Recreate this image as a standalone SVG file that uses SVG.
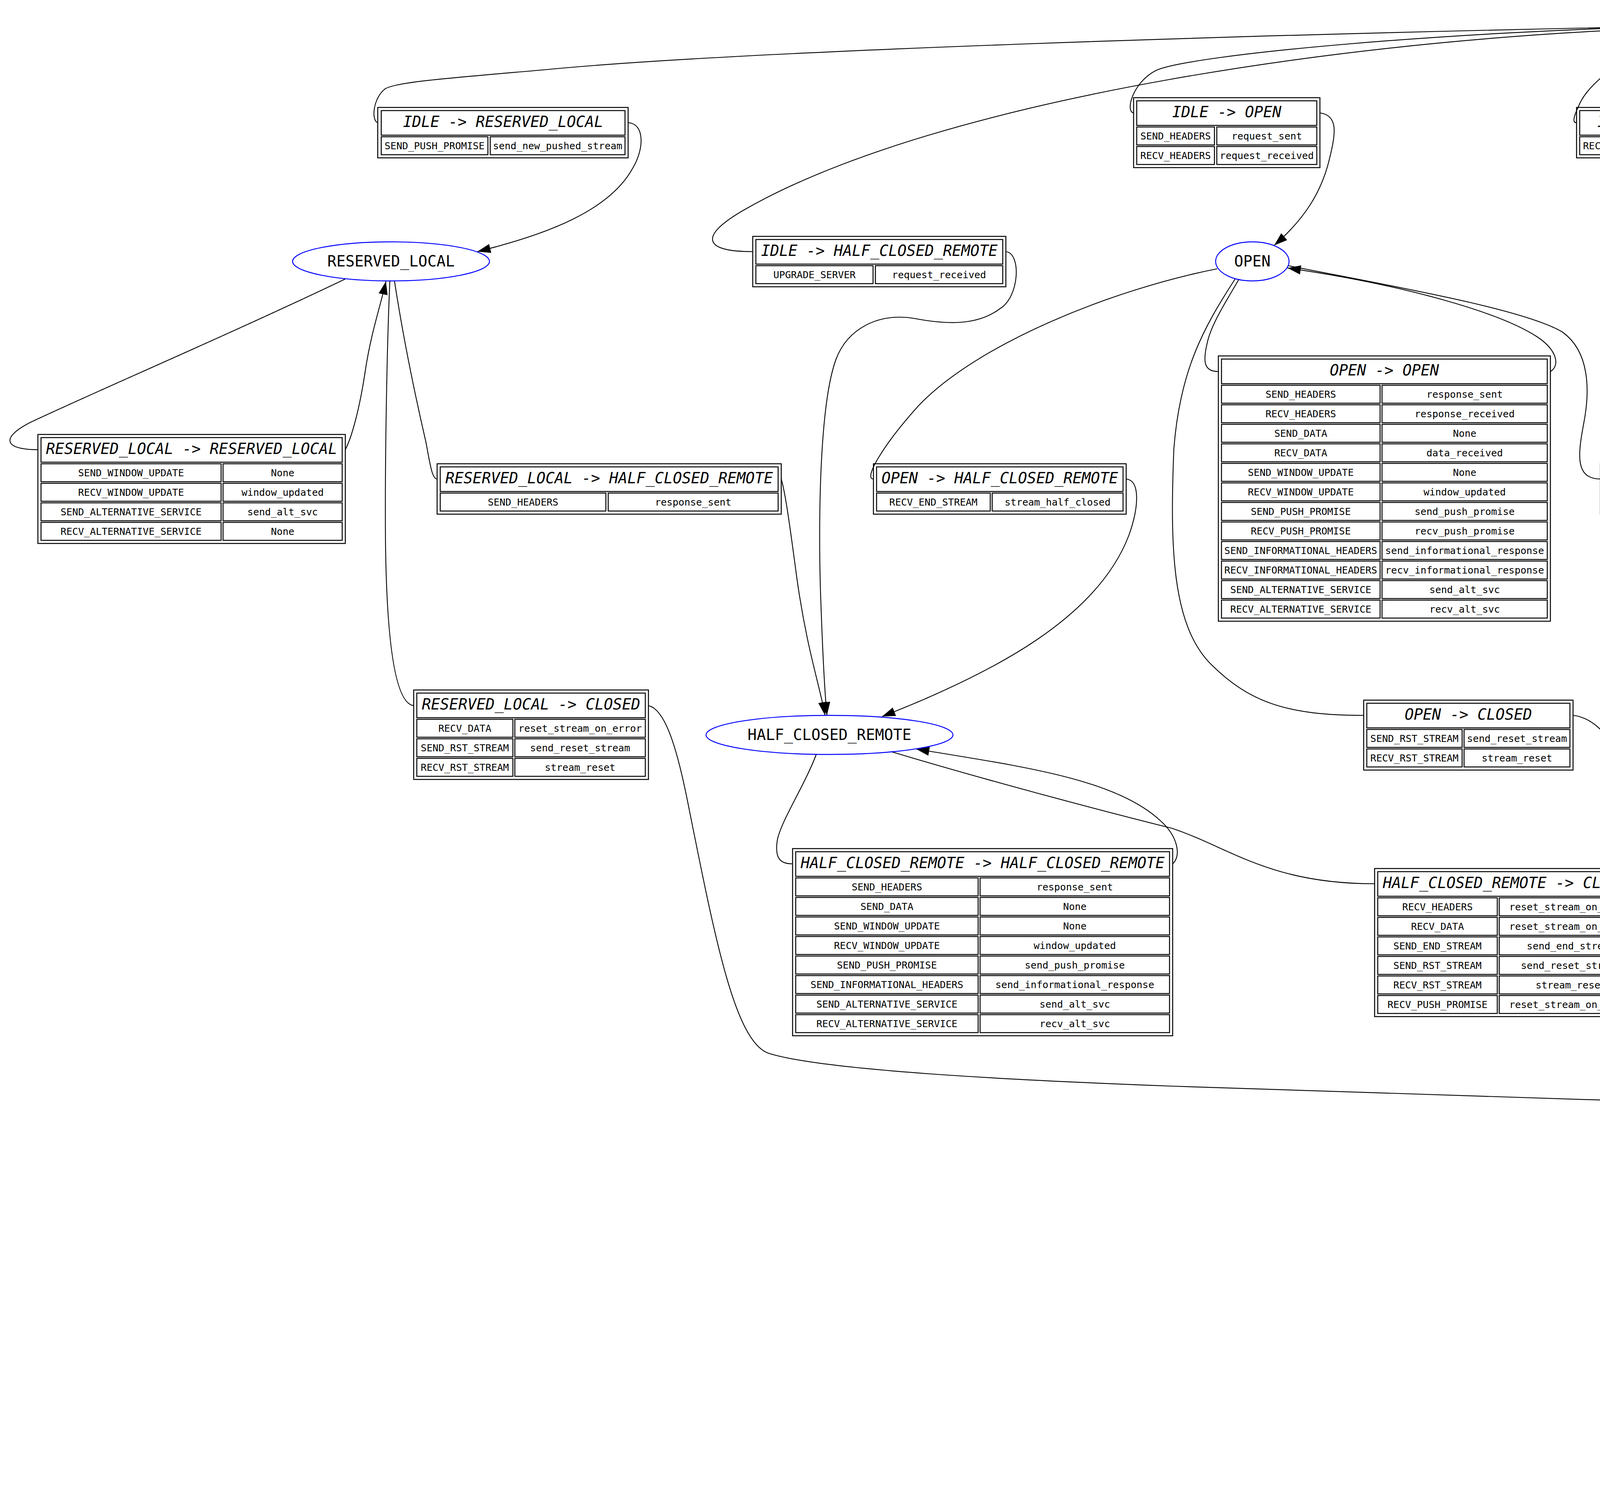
<svg xmlns="http://www.w3.org/2000/svg" width="7675" height="3806" viewBox="0 0 7675 3806">
<style>
.o{fill:none;stroke:#000;stroke-width:2.5}
.c{fill:none;stroke:#000;stroke-width:2.5}
.st{fill:none;stroke:#0000ff;stroke-width:2.4}
.e{fill:none;stroke:#000;stroke-width:2.2}
.a{marker-end:url(#ah)}
.h{font-family:"DejaVu Sans Mono",monospace;font-size:38.7px;font-style:italic;text-anchor:middle;fill:#000}
.t{font-family:"DejaVu Sans Mono",monospace;font-size:25px;text-anchor:middle;fill:#000}
.s{font-family:"DejaVu Sans Mono",monospace;font-size:38.7px;text-anchor:middle;fill:#000}
</style>
<defs>
<marker id="ah" markerUnits="userSpaceOnUse" markerWidth="34" markerHeight="24" refX="32" refY="11" orient="auto" viewBox="0 0 32 22"><path d="M0,0 L32,11 L0,22 z" fill="#000"/></marker>
</defs>
<rect x="0" y="0" width="7675" height="3806" fill="#fff"/>

<g id="connectors">
<path class="e" d="M 4336,66 C 3200,88 1900,130 1400,178 C 1150,200 1010,210 985,228 C 955,252 950,308 967,314"/>
<path class="e a" d="M 1608,314 C 1650,316 1650,380 1620,430 C 1560,540 1400,600 1222,644"/>
<path class="e" d="M 4336,66 C 3700,80 3050,140 2960,180 C 2900,210 2880,285 2902,289"/>
<path class="e a" d="M 3379,289 C 3425,295 3420,340 3405,400 C 3385,490 3340,560 3262,628"/>
<path class="e" d="M 4340,78 C 4200,115 4070,200 4042,270 C 4028,300 4025,314 4036,314"/>
<path class="e a" d="M 4678,314 C 4720,316 4722,360 4725,420 C 4730,500 4820,560 4899,621"/>
<path class="e" d="M 4510,89 C 4600,130 4700,190 4745,230 C 4775,260 4780,312 4806,314"/>
<path class="e a" d="M 5281,314 C 5310,310 5300,250 5260,210 C 5160,110 4800,85 4521,72"/>
<path class="e" d="M 4337,70 C 3500,90 2400,250 1900,540 C 1790,605 1800,644 1927,644"/>
<path class="e a" d="M 2575,644 C 2615,648 2610,760 2560,790 C 2500,835 2420,830 2340,815 C 2250,800 2170,840 2140,920 C 2100,1030 2095,1300 2100,1500 C 2105,1650 2110,1760 2117,1831"/>
<path class="e" d="M 4523,62 C 4900,66 5250,140 5400,220 C 5520,300 5560,480 5630,560 C 5680,620 5730,644 5799,644"/>
<path class="e a" d="M 6421,644 C 6650,648 6780,740 6870,880 C 6920,980 6925,1250 6918,1400 C 6910,1620 6800,1730 6628,1834"/>
<path class="e" d="M 4523,66 C 4900,80 5400,170 5850,304 C 6150,395 6400,520 6600,630 C 6780,730 6890,820 6930,900 C 6955,960 6948,1100 6950,1400 C 6950,1650 6955,1850 7001,1856"/>
<path class="e a" d="M 7503,1856 C 7570,1862 7650,2000 7658,2170 C 7675,2380 7620,2560 7400,2692 C 7300,2740 6400,2795 5061,2836"/>
<path class="e" d="M 884,714 C 600,850 250,1000 80,1080 C 0,1120 10,1151 97,1151"/>
<path class="e a" d="M 884,1151 C 900,1120 920,1050 935,950 C 950,850 975,780 988,720"/>
<path class="e" d="M 1010,720 C 1030,850 1060,1000 1090,1130 C 1100,1180 1105,1226 1119,1226"/>
<path class="e a" d="M 2000,1226 C 2010,1260 2020,1330 2040,1480 C 2065,1660 2100,1760 2112,1831"/>
<path class="e" d="M 998,720 C 990,900 985,1200 987,1400 C 990,1600 1005,1800 1059,1806"/>
<path class="e a" d="M 1660,1806 C 1700,1815 1730,1900 1760,2050 C 1830,2400 1880,2660 1965,2695 C 2100,2740 2600,2765 3000,2780 C 3500,2798 4200,2820 4810,2836"/>
<path class="e" d="M 3172,714 C 3140,770 3100,830 3090,880 C 3078,930 3085,951 3119,951"/>
<path class="e a" d="M 3969,951 C 3995,935 3985,895 3935,862 C 3840,800 3600,730 3296,686"/>
<path class="e" d="M 3116,688 C 2850,740 2500,880 2350,1040 C 2260,1140 2210,1226 2236,1226"/>
<path class="e a" d="M 2883,1226 C 2920,1230 2915,1300 2890,1370 C 2810,1580 2550,1720 2258,1834"/>
<path class="e" d="M 3298,680 C 3550,730 3900,790 4000,850 C 4070,900 4070,1000 4055,1080 C 4040,1160 4030,1226 4097,1226"/>
<path class="e a" d="M 4718,1226 C 4790,1235 4812,1300 4815,1400 C 4818,1530 4840,1600 4900,1650 C 5000,1730 5300,1790 5800,1835 C 5950,1848 6100,1858 6225,1866"/>
<path class="e" d="M 3162,714 C 3080,840 3020,950 3005,1150 C 2995,1400 3000,1600 3100,1700 C 3200,1800 3300,1831 3491,1831"/>
<path class="e a" d="M 4027,1831 C 4110,1840 4160,1950 4200,2050 C 4250,2170 4400,2300 4500,2450 C 4590,2590 4680,2740 4844,2802"/>
<path class="e" d="M 4950,720 C 4925,800 4905,900 4905,1050 C 4905,1130 4915,1176 4951,1176"/>
<path class="e a" d="M 5786,1176 C 5810,1160 5800,1110 5755,1050 C 5650,900 5400,780 5140,708"/>
<path class="e" d="M 5186,696 C 5450,740 5700,800 5800,850 C 5885,900 5880,1000 5868,1100 C 5855,1200 5860,1226 5912,1226"/>
<path class="e a" d="M 6795,1226 C 6830,1230 6830,1290 6810,1360 C 6770,1500 6650,1650 6548,1831"/>
<path class="e" d="M 4941,720 C 4900,830 4875,950 4860,1100 C 4800,1600 4745,2100 4735,2336"/>
<path class="e a" d="M 5357,2336 C 5400,2340 5415,2400 5400,2480 C 5370,2620 5200,2750 5035,2806"/>
<path class="e" d="M 2090,1930 C 2060,2010 2000,2100 1990,2150 C 1982,2200 2000,2211 2029,2211"/>
<path class="e a" d="M 3002,2211 C 3025,2190 3015,2140 2970,2100 C 2850,1990 2600,1960 2345,1917"/>
<path class="e" d="M 2282,1924 C 2500,1990 2800,2070 3000,2120 C 3150,2170 3250,2262 3519,2262"/>
<path class="e a" d="M 4213,2262 C 4300,2265 4340,2350 4360,2430 C 4390,2560 4400,2660 4480,2700 C 4580,2760 4700,2790 4815,2822"/>
<path class="e" d="M 6479,1930 C 6440,2010 6390,2100 6382,2150 C 6376,2200 6390,2211 6418,2211"/>
<path class="e a" d="M 7346,2211 C 7370,2190 7360,2130 7300,2090 C 7220,2040 7100,2050 7000,2040 C 6900,2030 6750,1970 6633,1928"/>
<path class="e" d="M 6384,1926 C 6100,2020 5800,2140 5620,2220 C 5480,2290 5470,2336 5575,2336"/>
<path class="e a" d="M 6245,2336 C 6295,2340 6300,2420 6285,2500 C 6260,2620 6100,2700 5800,2740 C 5500,2780 5250,2810 5060,2828"/>
<path class="e" d="M 4813,2854 C 4700,2880 4560,2950 4530,3020 C 4515,3060 4518,3067 4531,3067"/>
<path class="e a" d="M 5337,3067 C 5360,3050 5350,2990 5310,2950 C 5250,2890 5150,2870 5058,2854"/>
</g>

<g id="IDLE"><ellipse class="st" cx="4429" cy="61" rx="94" ry="50" style="stroke-width:4.5"/><text class="s" x="4429" y="74">IDLE</text></g>
<g id="RESERVED_LOCAL"><ellipse class="st" cx="1001" cy="669" rx="252" ry="50"/><text class="s" x="1001" y="682">RESERVED_LOCAL</text></g>
<g id="OPEN"><ellipse class="st" cx="3206" cy="669" rx="94" ry="50"/><text class="s" x="3206" y="682">OPEN</text></g>
<g id="RESERVED_REMOTE"><ellipse class="st" cx="4960" cy="669" rx="268" ry="50"/><text class="s" x="4960" y="682">RESERVED_REMOTE</text></g>
<g id="HALF_CLOSED_REMOTE"><ellipse class="st" cx="2123.5" cy="1881" rx="316" ry="50"/><text class="s" x="2123.5" y="1894">HALF_CLOSED_REMOTE</text></g>
<g id="HALF_CLOSED_LOCAL"><ellipse class="st" cx="6512.5" cy="1881" rx="300" ry="50"/><text class="s" x="6512.5" y="1894">HALF_CLOSED_LOCAL</text></g>
<g id="CLOSED"><ellipse class="st" cx="4935" cy="2839" rx="126" ry="50"/><text class="s" x="4935" y="2852">CLOSED</text></g>

<g id="t_IDLE_RESERVED_LOCAL">
<rect class="o" x="967" y="275" width="641" height="129"/>
<rect class="c" x="976" y="283" width="624" height="63"/>
<rect class="c" x="976" y="350" width="273" height="46"/><rect class="c" x="1255" y="350" width="345" height="46"/>
<text class="h" x="1288" y="325">IDLE -&gt; RESERVED_LOCAL</text>
<text class="t" x="1112.5" y="381.5">SEND_PUSH_PROMISE</text><text class="t" x="1427.5" y="381.5">send_new_pushed_stream</text>
</g>

<g id="t_IDLE_OPEN">
<rect class="o" x="2902" y="250" width="477" height="179"/>
<rect class="c" x="2910" y="258" width="461" height="63"/>
<rect class="c" x="2910" y="325" width="199" height="46"/><rect class="c" x="3115" y="325" width="256" height="46"/>
<rect class="c" x="2910" y="375" width="199" height="46"/><rect class="c" x="3115" y="375" width="256" height="46"/>
<text class="h" x="3140.5" y="300">IDLE -&gt; OPEN</text>
<text class="t" x="3009.5" y="356.5">SEND_HEADERS</text><text class="t" x="3243" y="356.5">request_sent</text>
<text class="t" x="3009.5" y="406.5">RECV_HEADERS</text><text class="t" x="3243" y="406.5">request_received</text>
</g>

<g id="t_IDLE_RESERVED_REMOTE">
<rect class="o" x="4036" y="275" width="642" height="129"/>
<rect class="c" x="4044" y="283" width="626" height="63"/>
<rect class="c" x="4044" y="350" width="273" height="46"/><rect class="c" x="4323" y="350" width="347" height="46"/>
<text class="h" x="4357" y="325">IDLE -&gt; RESERVED_REMOTE</text>
<text class="t" x="4180.5" y="381.5">RECV_PUSH_PROMISE</text><text class="t" x="4496.5" y="381.5">recv_new_pushed_stream</text>
</g>

<g id="t_IDLE_IDLE">
<rect class="o" x="4806" y="275" width="475" height="129"/>
<rect class="c" x="4814" y="283" width="459" height="63"/>
<rect class="c" x="4814" y="350" width="379" height="46"/><rect class="c" x="5199" y="350" width="74" height="46"/>
<text class="h" x="5043.5" y="325">IDLE -&gt; IDLE</text>
<text class="t" x="5003.5" y="381.5">RECV_ALTERNATIVE_SERVICE</text><text class="t" x="5236" y="381.5">None</text>
</g>

<g id="t_IDLE_HALF_CLOSED_REMOTE">
<rect class="o" x="1927" y="605" width="648" height="129"/>
<rect class="c" x="1935" y="613" width="632" height="63"/>
<rect class="c" x="1935" y="680" width="300" height="46"/><rect class="c" x="2241" y="680" width="326" height="46"/>
<text class="h" x="2251" y="655">IDLE -&gt; HALF_CLOSED_REMOTE</text>
<text class="t" x="2085" y="711.5">UPGRADE_SERVER</text><text class="t" x="2404" y="711.5">request_received</text>
</g>

<g id="t_IDLE_HALF_CLOSED_LOCAL">
<rect class="o" x="5799" y="605" width="622" height="129"/>
<rect class="c" x="5807" y="613" width="606" height="63"/>
<rect class="c" x="5807" y="680" width="314" height="46"/><rect class="c" x="6127" y="680" width="286" height="46"/>
<text class="h" x="6110" y="655">IDLE -&gt; HALF_CLOSED_LOCAL</text>
<text class="t" x="5964" y="711.5">UPGRADE_CLIENT</text><text class="t" x="6270" y="711.5">request_sent</text>
</g>

<g id="t_RESERVED_LOCAL_RESERVED_LOCAL">
<rect class="o" x="97" y="1112" width="787" height="279"/>
<rect class="c" x="105" y="1120" width="771" height="63"/>
<rect class="c" x="105" y="1187" width="461" height="46"/><rect class="c" x="571" y="1187" width="305" height="46"/>
<rect class="c" x="105" y="1237" width="461" height="46"/><rect class="c" x="571" y="1237" width="305" height="46"/>
<rect class="c" x="105" y="1287" width="461" height="46"/><rect class="c" x="571" y="1287" width="305" height="46"/>
<rect class="c" x="105" y="1337" width="461" height="46"/><rect class="c" x="571" y="1337" width="305" height="46"/>
<text class="h" x="490.5" y="1162">RESERVED_LOCAL -&gt; RESERVED_LOCAL</text>
<text class="t" x="335.5" y="1218.5">SEND_WINDOW_UPDATE</text><text class="t" x="723.5" y="1218.5">None</text>
<text class="t" x="335.5" y="1268.5">RECV_WINDOW_UPDATE</text><text class="t" x="723.5" y="1268.5">window_updated</text>
<text class="t" x="335.5" y="1318.5">SEND_ALTERNATIVE_SERVICE</text><text class="t" x="723.5" y="1318.5">send_alt_svc</text>
<text class="t" x="335.5" y="1368.5">RECV_ALTERNATIVE_SERVICE</text><text class="t" x="723.5" y="1368.5">None</text>
</g>

<g id="t_RESERVED_LOCAL_HALF_CLOSED_REMOTE">
<rect class="o" x="1119" y="1187" width="881" height="129"/>
<rect class="c" x="1127" y="1195" width="865" height="63"/>
<rect class="c" x="1127" y="1262" width="424" height="46"/><rect class="c" x="1557" y="1262" width="435" height="46"/>
<text class="h" x="1559.5" y="1237">RESERVED_LOCAL -&gt; HALF_CLOSED_REMOTE</text>
<text class="t" x="1339" y="1293.5">SEND_HEADERS</text><text class="t" x="1774.5" y="1293.5">response_sent</text>
</g>

<g id="t_OPEN_OPEN">
<rect class="o" x="3119" y="911" width="850" height="679"/>
<rect class="c" x="3127" y="919" width="834" height="63"/>
<rect class="c" x="3127" y="986" width="406" height="46"/><rect class="c" x="3538" y="986" width="423" height="46"/>
<rect class="c" x="3127" y="1036" width="406" height="46"/><rect class="c" x="3538" y="1036" width="423" height="46"/>
<rect class="c" x="3127" y="1086" width="406" height="46"/><rect class="c" x="3538" y="1086" width="423" height="46"/>
<rect class="c" x="3127" y="1136" width="406" height="46"/><rect class="c" x="3538" y="1136" width="423" height="46"/>
<rect class="c" x="3127" y="1186" width="406" height="46"/><rect class="c" x="3538" y="1186" width="423" height="46"/>
<rect class="c" x="3127" y="1236" width="406" height="46"/><rect class="c" x="3538" y="1236" width="423" height="46"/>
<rect class="c" x="3127" y="1286" width="406" height="46"/><rect class="c" x="3538" y="1286" width="423" height="46"/>
<rect class="c" x="3127" y="1336" width="406" height="46"/><rect class="c" x="3538" y="1336" width="423" height="46"/>
<rect class="c" x="3127" y="1386" width="406" height="46"/><rect class="c" x="3538" y="1386" width="423" height="46"/>
<rect class="c" x="3127" y="1436" width="406" height="46"/><rect class="c" x="3538" y="1436" width="423" height="46"/>
<rect class="c" x="3127" y="1486" width="406" height="46"/><rect class="c" x="3538" y="1486" width="423" height="46"/>
<rect class="c" x="3127" y="1536" width="406" height="46"/><rect class="c" x="3538" y="1536" width="423" height="46"/>
<text class="h" x="3544" y="961">OPEN -&gt; OPEN</text>
<text class="t" x="3330" y="1017.5">SEND_HEADERS</text><text class="t" x="3749.5" y="1017.5">response_sent</text>
<text class="t" x="3330" y="1067.5">RECV_HEADERS</text><text class="t" x="3749.5" y="1067.5">response_received</text>
<text class="t" x="3330" y="1117.5">SEND_DATA</text><text class="t" x="3749.5" y="1117.5">None</text>
<text class="t" x="3330" y="1167.5">RECV_DATA</text><text class="t" x="3749.5" y="1167.5">data_received</text>
<text class="t" x="3330" y="1217.5">SEND_WINDOW_UPDATE</text><text class="t" x="3749.5" y="1217.5">None</text>
<text class="t" x="3330" y="1267.5">RECV_WINDOW_UPDATE</text><text class="t" x="3749.5" y="1267.5">window_updated</text>
<text class="t" x="3330" y="1317.5">SEND_PUSH_PROMISE</text><text class="t" x="3749.5" y="1317.5">send_push_promise</text>
<text class="t" x="3330" y="1367.5">RECV_PUSH_PROMISE</text><text class="t" x="3749.5" y="1367.5">recv_push_promise</text>
<text class="t" x="3330" y="1417.5">SEND_INFORMATIONAL_HEADERS</text><text class="t" x="3749.5" y="1417.5">send_informational_response</text>
<text class="t" x="3330" y="1467.5">RECV_INFORMATIONAL_HEADERS</text><text class="t" x="3749.5" y="1467.5">recv_informational_response</text>
<text class="t" x="3330" y="1517.5">SEND_ALTERNATIVE_SERVICE</text><text class="t" x="3749.5" y="1517.5">send_alt_svc</text>
<text class="t" x="3330" y="1567.5">RECV_ALTERNATIVE_SERVICE</text><text class="t" x="3749.5" y="1567.5">recv_alt_svc</text>
</g>

<g id="t_OPEN_HALF_CLOSED_REMOTE">
<rect class="o" x="2236" y="1187" width="647" height="129"/>
<rect class="c" x="2244" y="1195" width="631" height="63"/>
<rect class="c" x="2244" y="1262" width="291" height="46"/><rect class="c" x="2540" y="1262" width="335" height="46"/>
<text class="h" x="2559.5" y="1237">OPEN -&gt; HALF_CLOSED_REMOTE</text>
<text class="t" x="2389.5" y="1293.5">RECV_END_STREAM</text><text class="t" x="2707.5" y="1293.5">stream_half_closed</text>
</g>

<g id="t_OPEN_HALF_CLOSED_LOCAL">
<rect class="o" x="4097" y="1187" width="621" height="129"/>
<rect class="c" x="4105" y="1195" width="605" height="63"/>
<rect class="c" x="4105" y="1262" width="383" height="46"/><rect class="c" x="4493" y="1262" width="217" height="46"/>
<text class="h" x="4407.5" y="1237">OPEN -&gt; HALF_CLOSED_LOCAL</text>
<text class="t" x="4296.5" y="1293.5">SEND_END_STREAM</text><text class="t" x="4601.5" y="1293.5">None</text>
</g>

<g id="t_RESERVED_REMOTE_RESERVED_REMOTE">
<rect class="o" x="4951" y="1137" width="835" height="229"/>
<rect class="c" x="4959" y="1145" width="819" height="63"/>
<rect class="c" x="4959" y="1212" width="481" height="46"/><rect class="c" x="5446" y="1212" width="332" height="46"/>
<rect class="c" x="4959" y="1262" width="481" height="46"/><rect class="c" x="5446" y="1262" width="332" height="46"/>
<rect class="c" x="4959" y="1312" width="481" height="46"/><rect class="c" x="5446" y="1312" width="332" height="46"/>
<text class="h" x="5368.5" y="1187">RESERVED_REMOTE -&gt; RESERVED_REMOTE</text>
<text class="t" x="5199.5" y="1243.5">SEND_WINDOW_UPDATE</text><text class="t" x="5612" y="1243.5">None</text>
<text class="t" x="5199.5" y="1293.5">RECV_WINDOW_UPDATE</text><text class="t" x="5612" y="1293.5">window_updated</text>
<text class="t" x="5199.5" y="1343.5">RECV_ALTERNATIVE_SERVICE</text><text class="t" x="5612" y="1343.5">recv_alt_svc</text>
</g>

<g id="t_RESERVED_REMOTE_HALF_CLOSED_LOCAL">
<rect class="o" x="5912" y="1186" width="883" height="129"/>
<rect class="c" x="5920" y="1194" width="867" height="63"/>
<rect class="c" x="5920" y="1261" width="395" height="46"/><rect class="c" x="6320" y="1261" width="467" height="46"/>
<text class="h" x="6353.5" y="1236">RESERVED_REMOTE -&gt; HALF_CLOSED_LOCAL</text>
<text class="t" x="6117.5" y="1292.5">RECV_HEADERS</text><text class="t" x="6553.5" y="1292.5">response_received</text>
</g>

<g id="t_RESERVED_LOCAL_CLOSED">
<rect class="o" x="1059" y="1766" width="601" height="229"/>
<rect class="c" x="1067" y="1774" width="585" height="63"/>
<rect class="c" x="1067" y="1841" width="246" height="46"/><rect class="c" x="1318" y="1841" width="334" height="46"/>
<rect class="c" x="1067" y="1891" width="246" height="46"/><rect class="c" x="1318" y="1891" width="334" height="46"/>
<rect class="c" x="1067" y="1941" width="246" height="46"/><rect class="c" x="1318" y="1941" width="334" height="46"/>
<text class="h" x="1359.5" y="1816">RESERVED_LOCAL -&gt; CLOSED</text>
<text class="t" x="1190" y="1872.5">RECV_DATA</text><text class="t" x="1485" y="1872.5">reset_stream_on_error</text>
<text class="t" x="1190" y="1922.5">SEND_RST_STREAM</text><text class="t" x="1485" y="1922.5">send_reset_stream</text>
<text class="t" x="1190" y="1972.5">RECV_RST_STREAM</text><text class="t" x="1485" y="1972.5">stream_reset</text>
</g>

<g id="t_OPEN_CLOSED">
<rect class="o" x="3491" y="1792" width="536" height="179"/>
<rect class="c" x="3499" y="1800" width="520" height="63"/>
<rect class="c" x="3499" y="1867" width="244" height="46"/><rect class="c" x="3748" y="1867" width="271" height="46"/>
<rect class="c" x="3499" y="1917" width="244" height="46"/><rect class="c" x="3748" y="1917" width="271" height="46"/>
<text class="h" x="3759" y="1842">OPEN -&gt; CLOSED</text>
<text class="t" x="3621" y="1898.5">SEND_RST_STREAM</text><text class="t" x="3883.5" y="1898.5">send_reset_stream</text>
<text class="t" x="3621" y="1948.5">RECV_RST_STREAM</text><text class="t" x="3883.5" y="1948.5">stream_reset</text>
</g>

<g id="t_HALF_CLOSED_REMOTE_HALF_CLOSED_REMOTE">
<rect class="o" x="2029" y="2172" width="973" height="479"/>
<rect class="c" x="2037" y="2180" width="957" height="63"/>
<rect class="c" x="2037" y="2247" width="467" height="46"/><rect class="c" x="2509" y="2247" width="485" height="46"/>
<rect class="c" x="2037" y="2297" width="467" height="46"/><rect class="c" x="2509" y="2297" width="485" height="46"/>
<rect class="c" x="2037" y="2347" width="467" height="46"/><rect class="c" x="2509" y="2347" width="485" height="46"/>
<rect class="c" x="2037" y="2397" width="467" height="46"/><rect class="c" x="2509" y="2397" width="485" height="46"/>
<rect class="c" x="2037" y="2447" width="467" height="46"/><rect class="c" x="2509" y="2447" width="485" height="46"/>
<rect class="c" x="2037" y="2497" width="467" height="46"/><rect class="c" x="2509" y="2497" width="485" height="46"/>
<rect class="c" x="2037" y="2547" width="467" height="46"/><rect class="c" x="2509" y="2547" width="485" height="46"/>
<rect class="c" x="2037" y="2597" width="467" height="46"/><rect class="c" x="2509" y="2597" width="485" height="46"/>
<text class="h" x="2515.5" y="2222">HALF_CLOSED_REMOTE -&gt; HALF_CLOSED_REMOTE</text>
<text class="t" x="2270.5" y="2278.5">SEND_HEADERS</text><text class="t" x="2751.5" y="2278.5">response_sent</text>
<text class="t" x="2270.5" y="2328.5">SEND_DATA</text><text class="t" x="2751.5" y="2328.5">None</text>
<text class="t" x="2270.5" y="2378.5">SEND_WINDOW_UPDATE</text><text class="t" x="2751.5" y="2378.5">None</text>
<text class="t" x="2270.5" y="2428.5">RECV_WINDOW_UPDATE</text><text class="t" x="2751.5" y="2428.5">window_updated</text>
<text class="t" x="2270.5" y="2478.5">SEND_PUSH_PROMISE</text><text class="t" x="2751.5" y="2478.5">send_push_promise</text>
<text class="t" x="2270.5" y="2528.5">SEND_INFORMATIONAL_HEADERS</text><text class="t" x="2751.5" y="2528.5">send_informational_response</text>
<text class="t" x="2270.5" y="2578.5">SEND_ALTERNATIVE_SERVICE</text><text class="t" x="2751.5" y="2578.5">send_alt_svc</text>
<text class="t" x="2270.5" y="2628.5">RECV_ALTERNATIVE_SERVICE</text><text class="t" x="2751.5" y="2628.5">recv_alt_svc</text>
</g>

<g id="t_HALF_CLOSED_REMOTE_CLOSED">
<rect class="o" x="3519" y="2223" width="694" height="379"/>
<rect class="c" x="3527" y="2231" width="678" height="63"/>
<rect class="c" x="3527" y="2298" width="306" height="46"/><rect class="c" x="3838" y="2298" width="367" height="46"/>
<rect class="c" x="3527" y="2348" width="306" height="46"/><rect class="c" x="3838" y="2348" width="367" height="46"/>
<rect class="c" x="3527" y="2398" width="306" height="46"/><rect class="c" x="3838" y="2398" width="367" height="46"/>
<rect class="c" x="3527" y="2448" width="306" height="46"/><rect class="c" x="3838" y="2448" width="367" height="46"/>
<rect class="c" x="3527" y="2498" width="306" height="46"/><rect class="c" x="3838" y="2498" width="367" height="46"/>
<rect class="c" x="3527" y="2548" width="306" height="46"/><rect class="c" x="3838" y="2548" width="367" height="46"/>
<text class="h" x="3866" y="2273">HALF_CLOSED_REMOTE -&gt; CLOSED</text>
<text class="t" x="3680" y="2329.5">RECV_HEADERS</text><text class="t" x="4021.5" y="2329.5">reset_stream_on_error</text>
<text class="t" x="3680" y="2379.5">RECV_DATA</text><text class="t" x="4021.5" y="2379.5">reset_stream_on_error</text>
<text class="t" x="3680" y="2429.5">SEND_END_STREAM</text><text class="t" x="4021.5" y="2429.5">send_end_stream</text>
<text class="t" x="3680" y="2479.5">SEND_RST_STREAM</text><text class="t" x="4021.5" y="2479.5">send_reset_stream</text>
<text class="t" x="3680" y="2529.5">RECV_RST_STREAM</text><text class="t" x="4021.5" y="2529.5">stream_reset</text>
<text class="t" x="3680" y="2579.5">RECV_PUSH_PROMISE</text><text class="t" x="4021.5" y="2579.5">reset_stream_on_error</text>
</g>

<g id="t_RESERVED_REMOTE_CLOSED">
<rect class="o" x="4735" y="2297" width="622" height="229"/>
<rect class="c" x="4743" y="2305" width="606" height="63"/>
<rect class="c" x="4743" y="2372" width="255" height="46"/><rect class="c" x="5003" y="2372" width="346" height="46"/>
<rect class="c" x="4743" y="2422" width="255" height="46"/><rect class="c" x="5003" y="2422" width="346" height="46"/>
<rect class="c" x="4743" y="2472" width="255" height="46"/><rect class="c" x="5003" y="2472" width="346" height="46"/>
<text class="h" x="5046" y="2347">RESERVED_REMOTE -&gt; CLOSED</text>
<text class="t" x="4870.5" y="2403.5">RECV_DATA</text><text class="t" x="5176" y="2403.5">reset_stream_on_error</text>
<text class="t" x="4870.5" y="2453.5">SEND_RST_STREAM</text><text class="t" x="5176" y="2453.5">send_reset_stream</text>
<text class="t" x="4870.5" y="2503.5">RECV_RST_STREAM</text><text class="t" x="5176" y="2503.5">stream_reset</text>
</g>

<g id="t_HALF_CLOSED_LOCAL_CLOSED">
<rect class="o" x="5575" y="2297" width="670" height="229"/>
<rect class="c" x="5583" y="2305" width="654" height="63"/>
<rect class="c" x="5583" y="2372" width="310" height="46"/><rect class="c" x="5898" y="2372" width="339" height="46"/>
<rect class="c" x="5583" y="2422" width="310" height="46"/><rect class="c" x="5898" y="2422" width="339" height="46"/>
<rect class="c" x="5583" y="2472" width="310" height="46"/><rect class="c" x="5898" y="2472" width="339" height="46"/>
<text class="h" x="5910" y="2347">HALF_CLOSED_LOCAL -&gt; CLOSED</text>
<text class="t" x="5738" y="2403.5">RECV_END_STREAM</text><text class="t" x="6067.5" y="2403.5">stream_ended</text>
<text class="t" x="5738" y="2453.5">SEND_RST_STREAM</text><text class="t" x="6067.5" y="2453.5">send_reset_stream</text>
<text class="t" x="5738" y="2503.5">RECV_RST_STREAM</text><text class="t" x="6067.5" y="2503.5">stream_reset</text>
</g>

<g id="t_HALF_CLOSED_LOCAL_HALF_CLOSED_LOCAL">
<rect class="o" x="6418" y="2172" width="928" height="479"/>
<rect class="c" x="6426" y="2180" width="912" height="63"/>
<rect class="c" x="6426" y="2247" width="444" height="46"/><rect class="c" x="6876" y="2247" width="462" height="46"/>
<rect class="c" x="6426" y="2297" width="444" height="46"/><rect class="c" x="6876" y="2297" width="462" height="46"/>
<rect class="c" x="6426" y="2347" width="444" height="46"/><rect class="c" x="6876" y="2347" width="462" height="46"/>
<rect class="c" x="6426" y="2397" width="444" height="46"/><rect class="c" x="6876" y="2397" width="462" height="46"/>
<rect class="c" x="6426" y="2447" width="444" height="46"/><rect class="c" x="6876" y="2447" width="462" height="46"/>
<rect class="c" x="6426" y="2497" width="444" height="46"/><rect class="c" x="6876" y="2497" width="462" height="46"/>
<rect class="c" x="6426" y="2547" width="444" height="46"/><rect class="c" x="6876" y="2547" width="462" height="46"/>
<rect class="c" x="6426" y="2597" width="444" height="46"/><rect class="c" x="6876" y="2597" width="462" height="46"/>
<text class="h" x="6882" y="2222">HALF_CLOSED_LOCAL -&gt; HALF_CLOSED_LOCAL</text>
<text class="t" x="6648" y="2278.5">RECV_HEADERS</text><text class="t" x="7107" y="2278.5">response_received</text>
<text class="t" x="6648" y="2328.5">RECV_DATA</text><text class="t" x="7107" y="2328.5">data_received</text>
<text class="t" x="6648" y="2378.5">SEND_WINDOW_UPDATE</text><text class="t" x="7107" y="2378.5">None</text>
<text class="t" x="6648" y="2428.5">RECV_WINDOW_UPDATE</text><text class="t" x="7107" y="2428.5">window_updated</text>
<text class="t" x="6648" y="2478.5">RECV_PUSH_PROMISE</text><text class="t" x="7107" y="2478.5">recv_push_promise</text>
<text class="t" x="6648" y="2528.5">RECV_INFORMATIONAL_HEADERS</text><text class="t" x="7107" y="2528.5">recv_informational_response</text>
<text class="t" x="6648" y="2578.5">SEND_ALTERNATIVE_SERVICE</text><text class="t" x="7107" y="2578.5">send_alt_svc</text>
<text class="t" x="6648" y="2628.5">RECV_ALTERNATIVE_SERVICE</text><text class="t" x="7107" y="2628.5">recv_alt_svc</text>
</g>

<g id="t_IDLE_CLOSED">
<rect class="o" x="7001" y="1817" width="502" height="129"/>
<rect class="c" x="7009" y="1825" width="486" height="63"/>
<rect class="c" x="7009" y="1892" width="151" height="46"/><rect class="c" x="7165" y="1892" width="330" height="46"/>
<text class="h" x="7252" y="1867">IDLE -&gt; CLOSED</text>
<text class="t" x="7084.5" y="1923.5">RECV_DATA</text><text class="t" x="7330" y="1923.5">reset_stream_on_error</text>
</g>

<g id="t_CLOSED_CLOSED">
<rect class="o" x="4531" y="3028" width="806" height="729"/>
<rect class="c" x="4539" y="3036" width="790" height="63"/>
<rect class="c" x="4539" y="3103" width="379" height="46"/><rect class="c" x="4924" y="3103" width="405" height="46"/>
<rect class="c" x="4539" y="3153" width="379" height="46"/><rect class="c" x="4924" y="3153" width="405" height="46"/>
<rect class="c" x="4539" y="3203" width="379" height="46"/><rect class="c" x="4924" y="3203" width="405" height="46"/>
<rect class="c" x="4539" y="3253" width="379" height="46"/><rect class="c" x="4924" y="3253" width="405" height="46"/>
<rect class="c" x="4539" y="3303" width="379" height="46"/><rect class="c" x="4924" y="3303" width="405" height="46"/>
<rect class="c" x="4539" y="3353" width="379" height="46"/><rect class="c" x="4924" y="3353" width="405" height="46"/>
<rect class="c" x="4539" y="3403" width="379" height="46"/><rect class="c" x="4924" y="3403" width="405" height="46"/>
<rect class="c" x="4539" y="3453" width="379" height="46"/><rect class="c" x="4924" y="3453" width="405" height="46"/>
<rect class="c" x="4539" y="3503" width="379" height="46"/><rect class="c" x="4924" y="3503" width="405" height="46"/>
<rect class="c" x="4539" y="3553" width="379" height="46"/><rect class="c" x="4924" y="3553" width="405" height="46"/>
<rect class="c" x="4539" y="3603" width="379" height="46"/><rect class="c" x="4924" y="3603" width="405" height="46"/>
<rect class="c" x="4539" y="3653" width="379" height="46"/><rect class="c" x="4924" y="3653" width="405" height="46"/>
<rect class="c" x="4539" y="3703" width="379" height="46"/><rect class="c" x="4924" y="3703" width="405" height="46"/>
<text class="h" x="4934" y="3078">CLOSED -&gt; CLOSED</text>
<text class="t" x="4728.5" y="3134.5">RECV_END_STREAM</text><text class="t" x="5126.5" y="3134.5">None</text>
<text class="t" x="4728.5" y="3184.5">RECV_ALTERNATIVE_SERVICE</text><text class="t" x="5126.5" y="3184.5">None</text>
<text class="t" x="4728.5" y="3234.5">RECV_HEADERS</text><text class="t" x="5126.5" y="3234.5">recv_on_closed_stream</text>
<text class="t" x="4728.5" y="3284.5">RECV_DATA</text><text class="t" x="5126.5" y="3284.5">recv_on_closed_stream</text>
<text class="t" x="4728.5" y="3334.5">RECV_WINDOW_UPDATE</text><text class="t" x="5126.5" y="3334.5">None</text>
<text class="t" x="4728.5" y="3384.5">RECV_RST_STREAM</text><text class="t" x="5126.5" y="3384.5">None</text>
<text class="t" x="4728.5" y="3434.5">RECV_PUSH_PROMISE</text><text class="t" x="5126.5" y="3434.5">recv_push_on_closed_stream</text>
<text class="t" x="4728.5" y="3484.5">SEND_HEADERS</text><text class="t" x="5126.5" y="3484.5">send_on_closed_stream</text>
<text class="t" x="4728.5" y="3534.5">SEND_PUSH_PROMISE</text><text class="t" x="5126.5" y="3534.5">send_push_on_closed_stream</text>
<text class="t" x="4728.5" y="3584.5">SEND_RST_STREAM</text><text class="t" x="5126.5" y="3584.5">send_on_closed_stream</text>
<text class="t" x="4728.5" y="3634.5">SEND_DATA</text><text class="t" x="5126.5" y="3634.5">send_on_closed_stream</text>
<text class="t" x="4728.5" y="3684.5">SEND_WINDOW_UPDATE</text><text class="t" x="5126.5" y="3684.5">send_on_closed_stream</text>
<text class="t" x="4728.5" y="3734.5">SEND_END_STREAM</text><text class="t" x="5126.5" y="3734.5">send_on_closed_stream</text>
</g>
</svg>
